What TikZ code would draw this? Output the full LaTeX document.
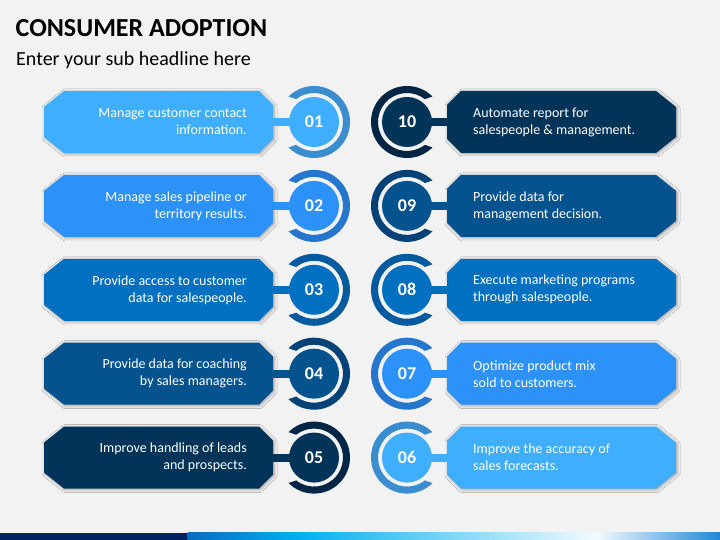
\documentclass[tikz,border=0pt]{standalone}
\usepackage{fontspec}
\setmainfont{Carlito}
\usetikzlibrary{shadows.blur}
\definecolor{bg}{HTML}{F2F2F2}
\definecolor{ca}{HTML}{40AEFF}\definecolor{ra}{HTML}{3A8ED0}
\definecolor{cb}{HTML}{2D91FA}\definecolor{rb}{HTML}{2576CC}
\definecolor{cc}{HTML}{0270C0}\definecolor{rc}{HTML}{045A9E}
\definecolor{cd}{HTML}{04538F}\definecolor{rd}{HTML}{034277}
\definecolor{ce}{HTML}{023459}\definecolor{re}{HTML}{012544}
\definecolor{navy}{HTML}{002060}
\definecolor{g1}{HTML}{0A6BC0}\definecolor{g2}{HTML}{00B0F0}
\definecolor{g3}{HTML}{F4FAFE}\definecolor{g4}{HTML}{1E88D8}
\tikzset{
  boxshape/.style={blur shadow={shadow xshift=1pt,shadow yshift=-1pt,shadow blur radius=3pt,shadow opacity=35}},
  disc/.style={circle,minimum size=50pt,inner sep=0pt,text=white,font=\bfseries\fontsize{18}{20}\selectfont},
  itemtext/.style={text=white,font=\fontsize{14}{17}\selectfont,inner sep=0pt},
  barline/.style={line width=8pt}
}
\begin{document}
\begin{tikzpicture}[x=1pt,y=1pt]
\fill[bg] (0,0) rectangle (720,540);
\useasboundingbox (0,0) rectangle (720,540);
\node[anchor=base west,inner sep=0pt,font=\bfseries\fontsize{26}{30}\selectfont] (title) at (15.5,503) {CONSUMER ADOPTION};
\node[anchor=base west,inner sep=0pt,font=\fontsize{20}{24}\selectfont] (sub) at (16,474) {Enter your sub headline here};
% left column
\foreach \i/\c/\r/\t in {1/ca/ra/{Manage customer contact\\information.},
                          2/cb/rb/{Manage sales pipeline or\\territory results.},
                          3/cc/rc/{Provide access to customer\\data for salespeople.},
                          4/cd/rd/{Provide data for coaching\\by sales managers.},
                          5/ce/re/{Improve handling of leads\\and prospects.}}{
  \pgfmathsetmacro{\y}{418-83.9*(\i-1)}
  \fill[\c,boxshape] (44,\y-15) -- (44,\y+15) -- (64,\y+31) -- (259,\y+31) -- (273,\y+17)
        -- (273,\y-17) -- (259,\y-31) -- (64,\y-31) -- cycle;
  \coordinate (LB\i) at (272,\y);
  \coordinate (LC\i) at (314,\y);
  \draw[barline,\c] (LB\i) -- (LC\i);
  \fill[\r,shift={(LC\i)}] (135:36) arc[start angle=135,end angle=-135,radius=36]
        -- (-128:29) arc[start angle=-128,end angle=128,radius=29] -- cycle;
  \node[disc,fill=\c] (LD\i) at (LC\i) {0\i};
  \node[itemtext,anchor=east,align=right] (LT\i) at (247,\y) {\t};
}
% right column
\foreach \i/\n/\c/\r/\t in {1/10/ce/re/{Automate report for\\salespeople \& management.},
                             2/09/cd/rd/{Provide data for\\management decision.},
                             3/08/cc/rc/{Execute marketing programs\\through salespeople.},
                             4/07/cb/rb/{Optimize product mix\\sold to customers.},
                             5/06/ca/ra/{Improve the accuracy of\\sales forecasts.}}{
  \pgfmathsetmacro{\y}{418-83.9*(\i-1)}
  \fill[\c,boxshape] (447,\y+17) -- (461,\y+31) -- (656,\y+31) -- (676,\y+15)
        -- (676,\y-15) -- (656,\y-31) -- (461,\y-31) -- (447,\y-17) -- cycle;
  \coordinate (RB\i) at (448,\y);
  \coordinate (RC\i) at (407,\y);
  \draw[barline,\c] (RB\i) -- (RC\i);
  \fill[\r,shift={(RC\i)}] (45:36) arc[start angle=45,end angle=315,radius=36]
        -- (308:29) arc[start angle=308,end angle=52,radius=29] -- cycle;
  \node[disc,fill=\c] (RD\i) at (RC\i) {\n};
  \node[itemtext,anchor=west,align=left] (RT\i) at (473,\y) {\t};
}
% bottom bar
\fill[navy] (0,0) rectangle (188,7);
\shade[left color=g1,right color=g2] (187.5,0) rectangle (298,7);
\shade[left color=g2,right color=g3] (297.5,0) rectangle (597,7);
\shade[left color=g3,right color=g4] (596.5,0) rectangle (720,7);
\end{tikzpicture}
\end{document}
